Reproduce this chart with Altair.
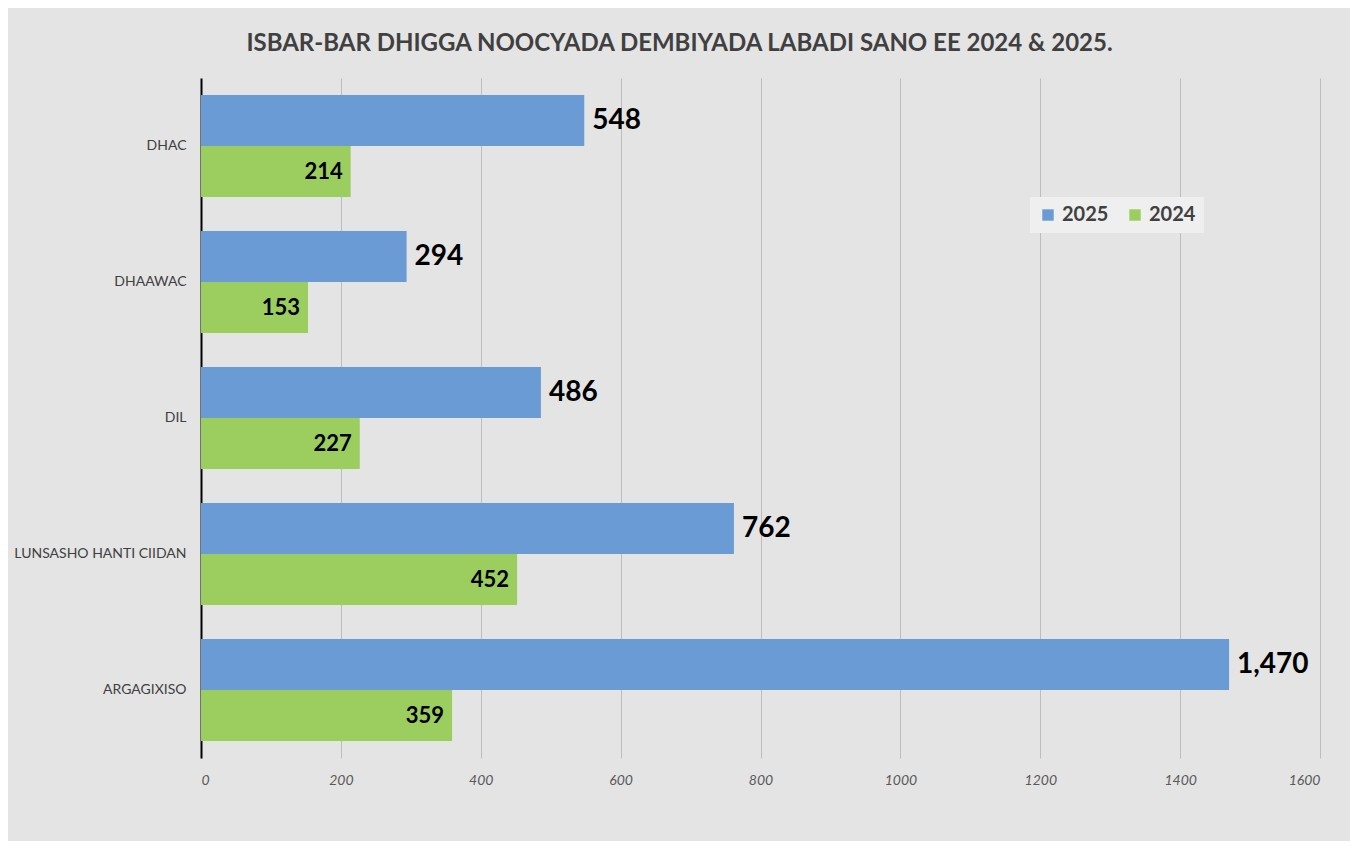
import altair as alt
import pandas as pd

categories = ["DHAC", "DHAAWAC", "DIL", "LUNSASHO HANTI CIIDAN", "ARGAGIXISO"]
values_2025 = [548, 294, 486, 762, 1470]
values_2024 = [214, 153, 227, 452, 359]
years = ["2025", "2024"]
colors = ["#6a9bd5", "#9bcd5f"]
x_ticks = [0, 200, 400, 600, 800, 1000, 1200, 1400, 1600]
title_text = "ISBAR-BAR DHIGGA NOOCYADA DEMBIYADA LABADI SANO EE 2024 & 2025."

rows = []
for c, v25, v24 in zip(categories, values_2025, values_2024):
    rows.append({"cat": c, "year": "2025", "value": v25})
    rows.append({"cat": c, "year": "2024", "value": v24})
df = pd.DataFrame(rows)

FONT = "Lato, sans-serif"

y_enc = alt.Y("cat:N", sort=categories, title=None,
              scale=alt.Scale(paddingInner=0.25, paddingOuter=0.125),
              axis=alt.Axis(domainColor="#000000", domainWidth=2, ticks=False,
                            labelFontSize=14, labelColor="#404040", labelPadding=15,
                            labelFont=FONT))
yoff = alt.YOffset("year:N", sort=years, scale=alt.Scale(domain=years, paddingInner=0, paddingOuter=0))
x_enc = alt.X("value:Q", title=None,
              scale=alt.Scale(domain=[0, 1600], nice=False),
              axis=alt.Axis(values=x_ticks, format="d", grid=True, gridColor="#bdbdbd", gridWidth=1,
                            domain=False, ticks=False, labelFontStyle="italic",
                            labelFontSize=14, labelColor="#595959", labelPadding=15,
                            labelFont=FONT))

base = alt.Chart(df)

bars = base.mark_bar().encode(
    y=y_enc, yOffset=yoff, x=x_enc,
    color=alt.Color("year:N", sort=years,
                    scale=alt.Scale(domain=years, range=colors),
                    legend=alt.Legend(title=None, orient="none", direction="horizontal",
                                      legendX=829, legendY=119, symbolType="square",
                                      symbolSize=130, labelFontSize=20, labelFontWeight="bold",
                                      labelColor="#404040", labelFont=FONT,
                                      fillColor="#efefef", padding=8, columnPadding=16,
                                      symbolStrokeWidth=0)),
)

labels25 = base.transform_filter(alt.datum.year == "2025").mark_text(
    align="left", baseline="middle", dx=8, fontSize=28, fontWeight="bold",
    color="#000000", font=FONT
).encode(y=alt.Y("cat:N", sort=categories), yOffset=yoff, x="value:Q",
         text=alt.Text("value:Q", format=","))

labels24 = base.transform_filter(alt.datum.year == "2024").mark_text(
    align="right", baseline="middle", dx=-8, fontSize=22, fontWeight="bold",
    color="#000000", font=FONT
).encode(y=alt.Y("cat:N", sort=categories), yOffset=yoff, x="value:Q",
         text=alt.Text("value:Q", format=","))

chart = alt.layer(bars, labels25, labels24).properties(
    width=1119, height=680,
    title=alt.TitleParams(title_text, fontSize=24, fontWeight="bold", color="#404040",
                          font=FONT, anchor="middle", dx=-81, offset=22),
    autosize=alt.AutoSizeParams(type="none"),
    padding={"left": 193, "top": 70, "right": 30, "bottom": 83},
).configure(background="#e4e4e4").configure_view(stroke=None)

chart.save("out.html", embed_options={"renderer": "svg", "actions": False})
